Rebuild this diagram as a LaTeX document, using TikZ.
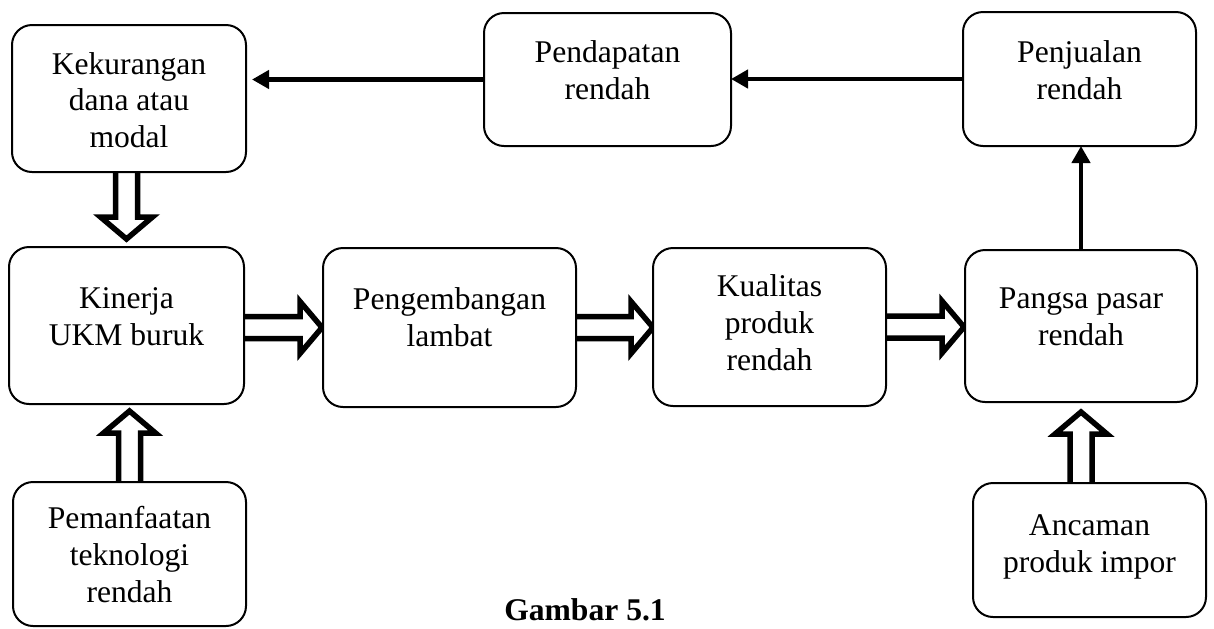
\documentclass[tikz,border=0pt]{standalone}
\usepackage{fontspec}
\setmainfont{Liberation Serif}
\usetikzlibrary{calc,arrows.meta}
\pgfdeclarelayer{background}
\pgfsetlayers{background,main}
\newcommand\boxtext[2]{\raisebox{#1}[\height][\depth]{\begin{tabular}{@{}c@{}}#2\end{tabular}}}
\tikzset{
  pbox/.style={draw, line width=1pt, rounded corners=10pt, fill=white, outer sep=0pt, inner sep=0pt},
  conn/.style={line width=2.4pt, -{Triangle[length=8.5pt,width=9pt]}},
  hollow/.style={line width=2.75pt, line join=miter, miter limit=10, fill=white},
  hollowR/.style={hollow, to path={($(\tikztostart)+(0,-11)$) -- ($(\tikztotarget)+(-22,-11)$) -- ($(\tikztotarget)+(-22,-26)$) -- (\tikztotarget) -- ($(\tikztotarget)+(-22,26)$) -- ($(\tikztotarget)+(-22,11)$) -- ($(\tikztostart)+(0,11)$)}},
  hollowD/.style={hollow, to path={($(\tikztostart)+(-11,0)$) -- ($(\tikztotarget)+(-11,-22)$) -- ($(\tikztotarget)+(-26,-22)$) -- (\tikztotarget) -- ($(\tikztotarget)+(26,-22)$) -- ($(\tikztotarget)+(11,-22)$) -- ($(\tikztostart)+(11,0)$)}},
  hollowU/.style={hollow, to path={($(\tikztostart)+(-11,0)$) -- ($(\tikztotarget)+(-11,22)$) -- ($(\tikztotarget)+(-26,22)$) -- (\tikztotarget) -- ($(\tikztotarget)+(26,22)$) -- ($(\tikztotarget)+(11,22)$) -- ($(\tikztostart)+(11,0)$)}},
}
\begin{document}
\begin{tikzpicture}[x=0.5pt, y=-0.5pt, font=\fontsize{15.8pt}{18.4pt}\selectfont]
\useasboundingbox (0,0) rectangle (1214,628);

\node[pbox, minimum width=117pt, minimum height=73.5pt] (kek) at (129,98.5) {\boxtext{-2.5pt}{Kekurangan\\dana atau\\modal}};
\node[pbox, minimum width=123.5pt, minimum height=66.5pt] (pend) at (607.5,79.5) {\boxtext{3pt}{Pendapatan\\rendah}};
\node[pbox, minimum width=116.5pt, minimum height=67pt] (penj) at (1079.5,79) {\boxtext{2.75pt}{Penjualan\\rendah}};
\node[pbox, minimum width=117.5pt, minimum height=78.5pt] (kin) at (126.5,325.5) {\boxtext{3pt}{Kinerja\\UKM buruk}};
\node[pbox, minimum width=126.5pt, minimum height=79.5pt] (peng) at (449.5,327.5) {\boxtext{3.5pt}{Pengembangan\\lambat}};
\node[pbox, minimum width=116.5pt, minimum height=79pt] (kual) at (769.5,327) {\boxtext{0.5pt}{Kualitas\\produk\\rendah}};
\node[pbox, minimum width=116pt, minimum height=76pt] (pang) at (1081,326) {\boxtext{3pt}{Pangsa pasar\\rendah}};
\node[pbox, minimum width=116.5pt, minimum height=72pt] (pem) at (129.5,554) {\boxtext{-2pt}{Pemanfaatan\\teknologi\\rendah}};
\node[pbox, minimum width=116.5pt, minimum height=67pt] (anc) at (1089.5,550) {\boxtext{1.75pt}{Ancaman\\produk impor}};

\node[font=\fontsize{15.8pt}{18.4pt}\selectfont\bfseries, anchor=base, inner sep=0pt] (cap) at (585,620) {Gambar 5.1};

\begin{pgfonlayer}{background}
\draw[conn] (pend.west) -- ($(pend.west -| kek.east)+(6,0)$);
\draw[conn] (penj.west) -- (penj.west -| pend.east);
\draw[conn] (pang.north) -- (pang.north |- penj.south);

\draw[hollowD] (kin.north |- kek.south) to ($(kin.north)+(0,-8)$);
\draw[hollowU] (pem.north) to ($(pem.north |- kin.south)+(0,7)$);
\draw[hollowU] (pang.south |- anc.north) to ($(pang.south)+(0,10)$);
\draw[hollowR] (kin.east |- peng.west) to ($(peng.west)+(-1,0)$);
\draw[hollowR] (peng.east) to (peng.east -| kual.west);
\draw[hollowR] (kual.east) to ($(kual.east -| pang.west)+(-1,0)$);
\end{pgfonlayer}
\end{tikzpicture}
\end{document}
